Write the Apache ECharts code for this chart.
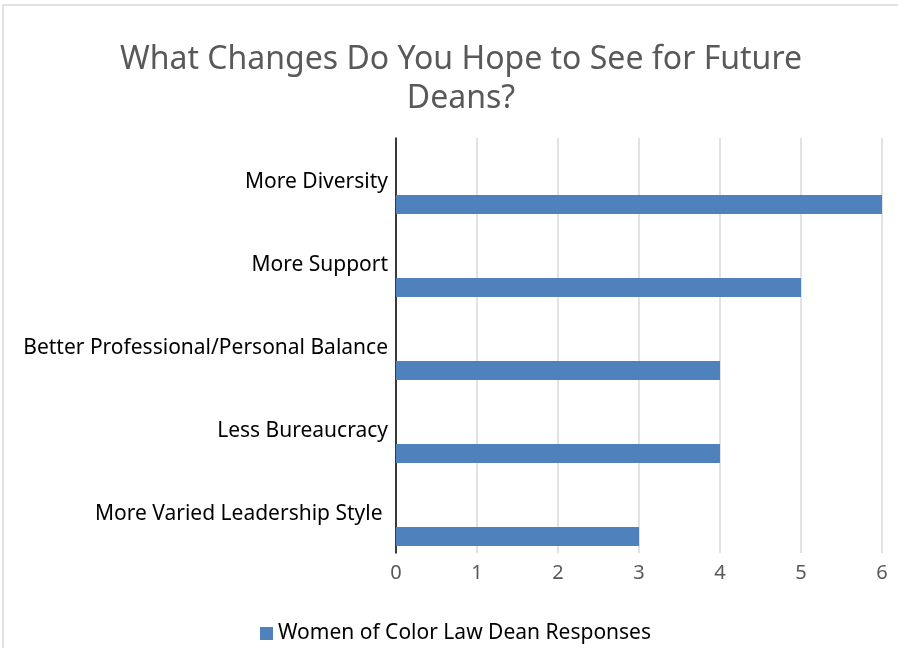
<!DOCTYPE html>
<html><head><meta charset="utf-8">
<script src="https://cdn.jsdelivr.net/npm/echarts@6/dist/echarts.min.js"></script>
<style>html,body{margin:0;padding:0;background:#fff}#c{width:898px;height:648px}</style>
</head><body><div id="c"></div>
<script>
const categories = ["More Diversity","More Support","Better Professional/Personal Balance","Less Bureaucracy","More Varied Leadership Style "];
const responses = [6,5,4,4,3];
const spacer = [null,null,null,null,null];
const xTicks = [0,1,2,3,4,5,6];
const seriesName = "Women of Color Law Dean Responses";
const titleText = "What Changes Do You Hope to See for Future\nDeans?";

const chart = echarts.init(document.getElementById('c'));
const font = '"Noto Sans", sans-serif';
chart.setOption({
  animation:false,
  graphic:[{type:'rect',shape:{x:3,y:5,width:900,height:660},style:{fill:'none',stroke:'#d9d9d9',lineWidth:1.5},silent:true}],
  title:{text:titleText,left:456,top:35,textAlign:'center',
    textStyle:{fontFamily:font,fontSize:32,fontWeight:'normal',color:'#595959',lineHeight:39}},
  legend:{data:[seriesName],bottom:-1,left:255,itemWidth:13,itemHeight:13,icon:'rect',itemGap:8,
    textStyle:{fontFamily:font,fontSize:21,color:'#000'}},
  grid:{left:396,right:16,top:138,bottom:95,containLabel:false},
  xAxis:{type:'value',min:0,max:6,interval:1,
    axisLine:{show:false},axisTick:{show:false},
    axisLabel:{fontFamily:font,fontSize:20,color:'#595959',margin:10,formatter:v=>xTicks.includes(v)?String(v):''},
    splitLine:{lineStyle:{color:'#d9d9d9',width:1.5}}},
  yAxis:{type:'category',data:categories,inverse:true,
    axisLine:{lineStyle:{color:'#000',width:1.5}},axisTick:{show:false},
    axisLabel:{fontFamily:font,fontSize:21,color:'#000',margin:8,verticalAlign:'middle',
      formatter:v=>'{a|'+v+'}',
      rich:{a:{fontFamily:font,fontSize:21,color:'#000',padding:[6,0,0,0]}}}},
  series:[
    {name:'spacer',type:'bar',data:spacer,barWidth:19,barGap:'163%',itemStyle:{color:'transparent'}},
    {name:seriesName,type:'bar',data:responses,barWidth:19,barGap:'163%',itemStyle:{color:'#4f81bd'}}
  ]
});
</script></body></html>
